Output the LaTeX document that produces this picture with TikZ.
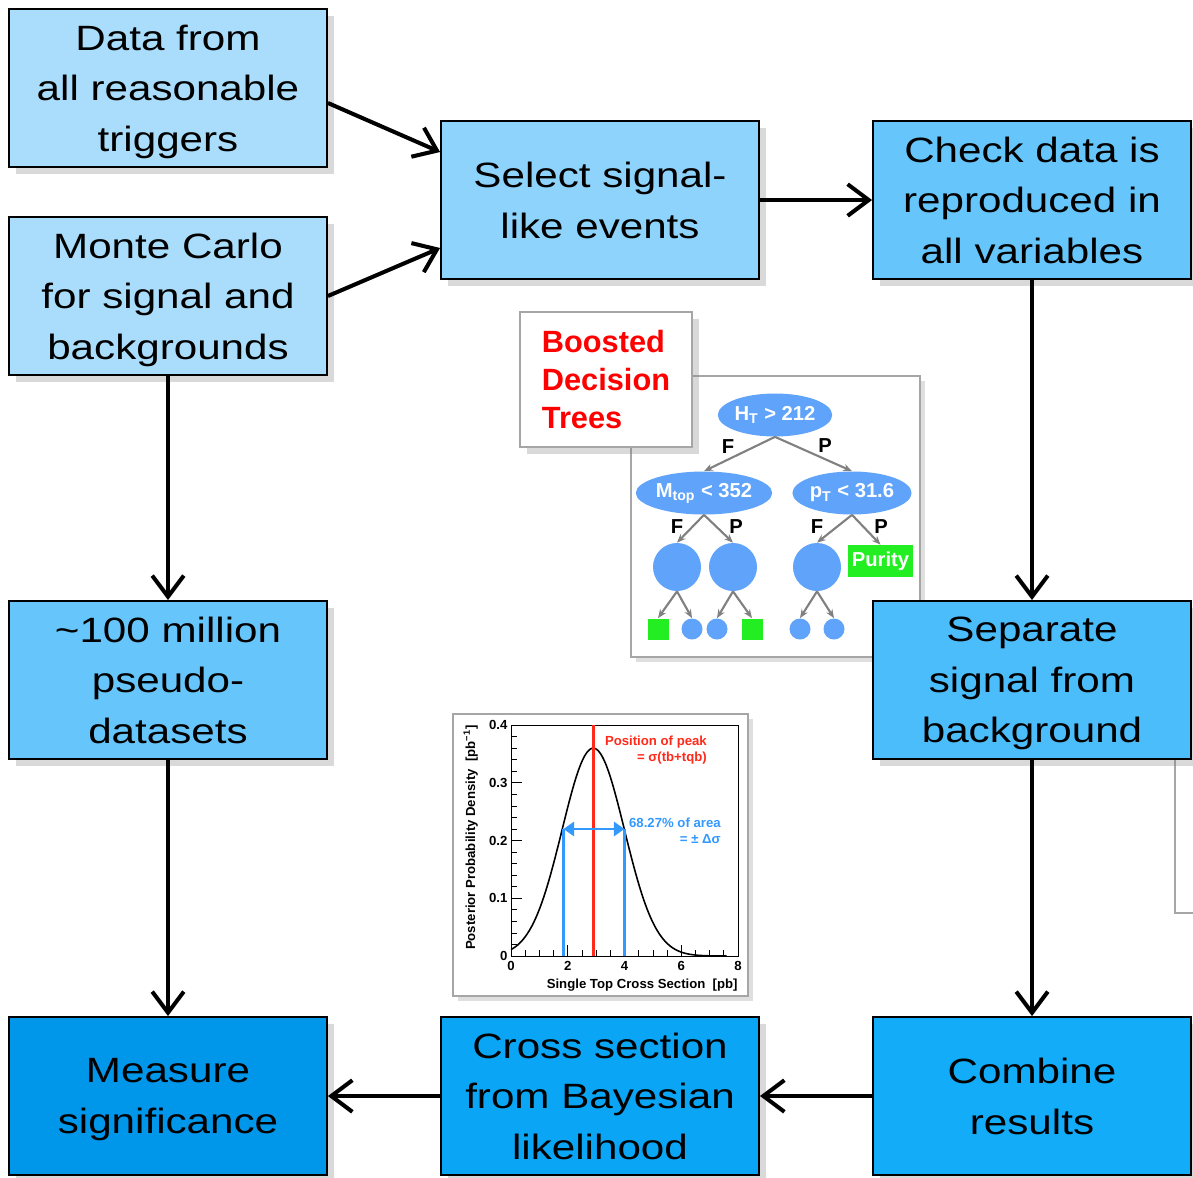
\documentclass[tikz,border=0pt]{standalone}
\usepackage{fontspec}
\setmainfont{Liberation Sans}
\newfontfamily\boxfont[FakeStretch=1.2]{Liberation Sans}
\usetikzlibrary{arrows.meta,shadows,shapes.geometric}

\definecolor{dataBlue}{HTML}{A9DDFB}
\definecolor{selBlue}{HTML}{8DD3FB}
\definecolor{checkBlue}{HTML}{66C6FB}
\definecolor{sepBlue}{HTML}{4CBDFB}
\definecolor{combBlue}{HTML}{12ACF9}
\definecolor{crossBlue}{HTML}{0AA6F5}
\definecolor{measBlue}{HTML}{0096EA}
\definecolor{treeBlue}{HTML}{5FA3FA}
\definecolor{leafGreen}{HTML}{22EE22}
\definecolor{peakRed}{HTML}{FF2A1A}
\definecolor{areaBlue}{HTML}{3399FF}

\begin{document}
\begin{tikzpicture}[x=0.02cm, y=-0.02cm,
    >={Straight Barb[length=12pt,width=18pt]},
    flow/.style = {line width=2.3pt, ->},
    stage/.style = {
      draw,
      line width = 1.1pt,
      rectangle,
      minimum width = 6.36cm,
      minimum height = 3.16cm,
      align = center,
      text depth = -0.12cm,
      font = \boxfont\fontsize{20}{28.8}\selectfont,
      drop shadow = {shadow xshift=4pt, shadow yshift=-4pt, opacity=0.3}
    },
    inset/.style = {
      draw = gray!70,
      fill = white,
      line width = 1pt,
      drop shadow = {shadow xshift=3pt, shadow yshift=-3pt, opacity=0.25}
    },
    split/.style = {
      ellipse,
      fill = treeBlue,
      text = white,
      inner sep = 0pt,
      minimum width = 1.98cm,
      minimum height = 0.86cm,
      font = \bfseries\fontsize{11.5}{12}\selectfont
    },
    bigleaf/.style = {circle, fill=treeBlue, inner sep=0pt, minimum size=0.96cm},
    dotleaf/.style = {circle, fill=treeBlue, inner sep=0pt, minimum size=0.42cm},
    sqleaf/.style = {rectangle, fill=leafGreen, inner sep=0pt, minimum size=0.42cm},
    branch/.style = {draw=gray, line width=1.2pt, -{Stealth[length=5pt,width=4pt]}},
    fp/.style = {font=\bfseries\fontsize{11.5}{12}\selectfont},
    axlbl/.style = {font=\bfseries\fontsize{7.5}{9}\selectfont}
  ]
  \useasboundingbox (0,0) rectangle (1193,1177);

  % insets behind the flow
  \path[inset] (631,376) rectangle (920,657);
  \path[inset] (453,714) rectangle (748,996);
  \draw[gray!70, line width=1pt] (1175,760) -- (1175,913) -- (1193,913);

  \node[draw=gray!70, fill=white, line width=1pt, minimum width=3.44cm,
        minimum height=2.7cm, align=left, text=red,
        font=\bfseries\fontsize{17.5}{21.6}\selectfont,
        drop shadow={shadow xshift=4pt, shadow yshift=-4pt, opacity=0.3}]
    (bdt) at (606,379.5) {Boosted\\Decision\\Trees};

  % decision tree
  \node[split] (ht)   at (775,415) {H\textsubscript{T} > 212};
  \node[split] (mtop) at (704,493) {M\textsubscript{top} < 352};
  \node[split] (pt)   at (852,493) {p\textsubscript{T} < 31.6};
  \node[bigleaf] (c1) at (677,567) {};
  \node[bigleaf] (c2) at (733,567) {};
  \node[bigleaf] (c3) at (817,567) {};
  \node[rectangle, fill=leafGreen, text=white, minimum width=1.3cm,
        minimum height=0.64cm, inner sep=0pt,
        font=\bfseries\fontsize{11.5}{12}\selectfont] (pur) at (880.5,561) {Purity};
  \node[sqleaf]  (s1) at (658,629) {};
  \node[dotleaf] (d1) at (692,629) {};
  \node[dotleaf] (d2) at (717,629) {};
  \node[sqleaf]  (s2) at (752,629) {};
  \node[dotleaf] (d3) at (800,629) {};
  \node[dotleaf] (d4) at (834,629) {};

  \draw[branch] (ht.south) -- (mtop.north);
  \draw[branch] (ht.south) -- (pt.north);
  \draw[branch] (mtop.south) -- (c1.north);
  \draw[branch] (mtop.south) -- (c2.north);
  \draw[branch] (pt.south) -- (c3.north);
  \draw[branch] (pt.south) -- (pur.north);
  \draw[branch] (c1.south) -- (s1.north);
  \draw[branch] (c1.south) -- (d1.north);
  \draw[branch] (c2.south) -- (d2.north);
  \draw[branch] (c2.south) -- (s2.north);
  \draw[branch] (c3.south) -- (d3.north);
  \draw[branch] (c3.south) -- (d4.north);

  \node[fp] (f0) at (728,447) {F};
  \node[fp] (p0) at (825,446) {P};
  \node[fp] (f1) at (677,527) {F};
  \node[fp] (p1) at (736,527) {P};
  \node[fp] (f2) at (817,527) {F};
  \node[fp] (p2) at (881,527) {P};

  % posterior plot
  \begin{scope}[shift={(511,956)}, x=0.5675cm, y=11.55cm]
    \draw[line width=0.5pt] (0,0) rectangle (8,0.4);
    \foreach \t in {0,0.5,...,8}
      \draw[line width=0.4pt] (\t,0) -- (\t,0.01);
    \foreach \t in {0,2,4,6,8}
      \draw[line width=0.4pt] (\t,0) -- (\t,0.019);
    \foreach \t in {0,0.02,...,0.41}
      \draw[line width=0.4pt] (0,\t) -- (0.2,\t);
    \foreach \t in {0,0.1,...,0.41}
      \draw[line width=0.4pt] (0,\t) -- (0.39,\t);

    \draw[line width=0.9pt] plot[domain=0:7.6, samples=100, smooth]
      (\x, {0.36*exp(-(\x-2.9)^2/2.42)});
    \draw[peakRed, line width=1.6pt] (2.9,0) -- (2.9,0.4);
    \draw[areaBlue, line width=1.6pt] (1.85,0) -- (1.85,0.22);
    \draw[areaBlue, line width=1.6pt] (4,0) -- (4,0.22);
    \draw[areaBlue, line width=1.6pt,
          {Triangle[length=6pt,width=8pt]}-{Triangle[length=6pt,width=8pt]}]
      (1.85,0.22) -- (4,0.22);

    \node[axlbl, text=peakRed, align=right, anchor=north east]
      (peak) at (7.12,0.392) {Position of peak\\= σ(tb+tqb)};
    \node[axlbl, text=areaBlue, align=right, anchor=north east]
      (area) at (7.61,0.25) {68.27\% of area\\= ± Δσ};

    \foreach \v/\s in {0/0, 0.1/0.1, 0.2/0.2, 0.3/0.3, 0.4/0.4}
      \node[axlbl, anchor=east, inner sep=1pt] (yt\s) at (-0.05,\v) {\s};
    \foreach \v in {0,2,4,6,8}
      \node[axlbl, anchor=north, inner sep=1pt] (xt\v) at (\v,-0.005) {\v};
    \node[axlbl, anchor=east, inner sep=0pt] (xlab) at (8,-0.05)
      {Single Top Cross Section~~[pb]};
    \node[axlbl, anchor=east, rotate=90, inner sep=0pt] (ylab) at (-1.42,0.4)
      {Posterior Probability Density~~[pb\textsuperscript{−1}]};
  \end{scope}

  % flow chart
  \node[stage, fill=dataBlue]  (data)   at (168,88)   {Data from\\all reasonable\\triggers};
  \node[stage, fill=dataBlue]  (mc)     at (168,296)  {Monte Carlo\\for signal and\\backgrounds};
  \node[stage, fill=selBlue]   (select) at (600,200)  {Select signal-\\like events};
  \node[stage, fill=checkBlue] (check)  at (1032,200) {Check data is\\reproduced in\\all variables};
  \node[stage, fill=checkBlue] (pseudo) at (168,680)  {\textasciitilde100 million\\pseudo-\\datasets};
  \node[stage, fill=sepBlue]   (sep)    at (1032,680) {Separate\\signal from\\background};
  \node[stage, fill=measBlue]  (meas)   at (168,1096) {Measure\\significance};
  \node[stage, fill=crossBlue] (cross)  at (600,1096) {Cross section\\from Bayesian\\likelihood};
  \node[stage, fill=combBlue]  (comb)   at (1032,1096) {Combine\\results};

  \draw[flow] ([yshift=-0.3cm]data.east) -- ([yshift=0.96cm]select.west);
  \draw[flow] (mc.east) -- ([yshift=-0.96cm]select.west);
  \draw[flow] (select) -- (check);
  \draw[flow] (check) -- (sep);
  \draw[flow] (mc) -- (pseudo);
  \draw[flow] (pseudo) -- (meas);
  \draw[flow] (sep) -- (comb);
  \draw[flow] (comb) -- (cross);
  \draw[flow] (cross) -- (meas);
\end{tikzpicture}
\end{document}
